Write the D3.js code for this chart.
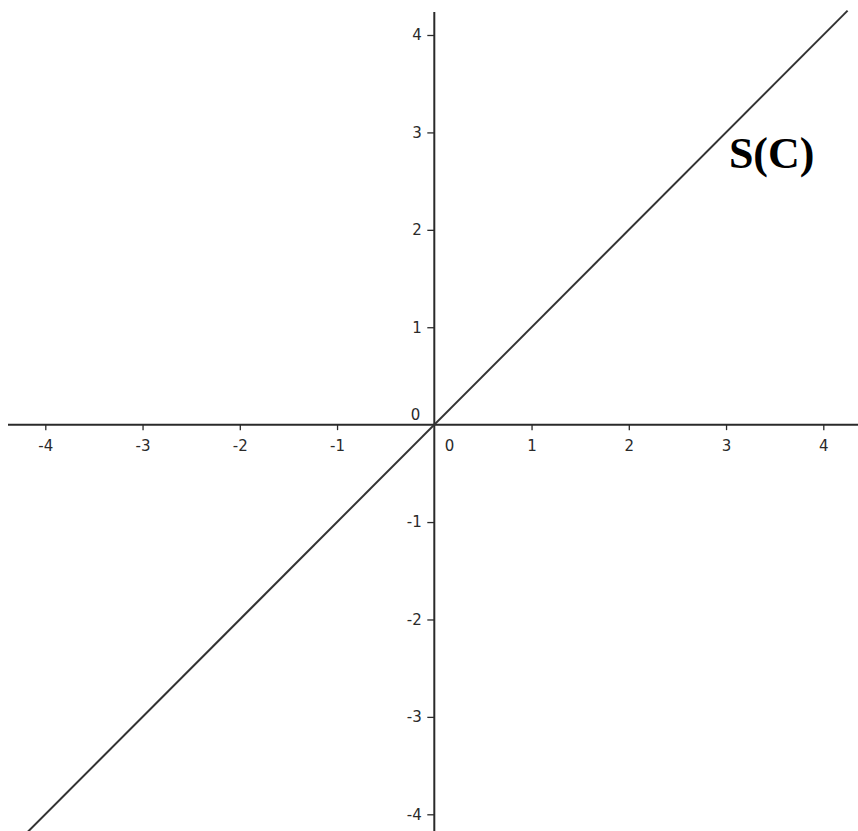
<!DOCTYPE html>
<html>
<head>
<meta charset="utf-8">
<script src="https://cdn.jsdelivr.net/npm/d3@7"></script>
<style>
html,body{margin:0;padding:0;background:#fff;}
svg{display:block;}
</style>
</head>
<body>
<svg id="chart" width="858" height="831"></svg>
<script>
// Data
const xTicks = [-4, -3, -2, -1, 1, 2, 3, 4];
const yTicks = [-4, -3, -2, -1, 1, 2, 3, 4];
const lineX = [-4.18, 4.25];          // S(C): y = x
const lineY = [-4.18, 4.25];
const curveLabel = "S(C)";
const labelPos = [3.5, 2.65];

const W = 858, H = 831;
const FONT = "DejaVu Sans, Verdana, sans-serif";
const FS = 15;
const svg = d3.select("#chart");
const x = d3.scaleLinear().domain([-4, 4]).range([45.3, 823.3]);
const y = d3.scaleLinear().domain([-4, 4]).range([814.3, 35]);
const axisColor = "#2a2a2a";
const textColor = "#2a2a2a";

// x axis
const xa = svg.append("g").attr("transform", `translate(0,${y(0)})`)
  .call(d3.axisBottom(x).tickValues(xTicks).tickSize(5.5).tickSizeOuter(0).tickFormat(d3.format("d")));
xa.select(".domain").remove();
xa.selectAll(".tick line").attr("stroke", axisColor).attr("stroke-width", 1.3);
xa.selectAll(".tick text").attr("font-family", FONT)
  .attr("font-size", FS).attr("fill", textColor).attr("dy", 0).attr("y", 26.5)
  .text(d => d < 0 ? "-" + Math.abs(d) : d);
svg.append("line").attr("x1", 8).attr("x2", W).attr("y1", y(0)).attr("y2", y(0))
  .attr("stroke", axisColor).attr("stroke-width", 2);

// y axis
const ya = svg.append("g").attr("transform", `translate(${x(0)},0)`)
  .call(d3.axisLeft(y).tickValues(yTicks).tickSize(7).tickSizeOuter(0).tickFormat(d3.format("d")));
ya.select(".domain").remove();
ya.selectAll(".tick line").attr("stroke", axisColor).attr("stroke-width", 1.3);
ya.selectAll(".tick text").attr("font-family", FONT)
  .attr("font-size", FS).attr("fill", textColor).attr("x", -12.6)
  .text(d => d < 0 ? "-" + Math.abs(d) : d);
svg.append("line").attr("x1", x(0)).attr("x2", x(0)).attr("y1", 12).attr("y2", H)
  .attr("stroke", axisColor).attr("stroke-width", 2);

// origin labels
svg.append("text").attr("x", x(0) - 14).attr("y", y(0) - 4.5)
  .attr("text-anchor", "end").attr("font-family", FONT)
  .attr("font-size", FS).attr("fill", textColor).text("0");
svg.append("text").attr("x", x(0) + 10.5).attr("y", y(0) + 26.5)
  .attr("font-family", FONT)
  .attr("font-size", FS).attr("fill", textColor).text("0");

// line y = x
const pts = lineX.map((v, i) => [v, lineY[i]]);
svg.append("path").datum(pts)
  .attr("d", d3.line().x(d => x(d[0])).y(d => y(d[1])))
  .attr("stroke", "#333").attr("stroke-width", 2).attr("fill", "none");

// label
svg.append("text").attr("x", x(labelPos[0]) - 3).attr("y", 168)
  .attr("text-anchor", "middle")
  .attr("font-family", "Liberation Serif, Times New Roman, serif")
  .attr("font-weight", "bold").attr("font-size", 44).attr("fill", "#000")
  .text(curveLabel);
</script>
</body>
</html>
